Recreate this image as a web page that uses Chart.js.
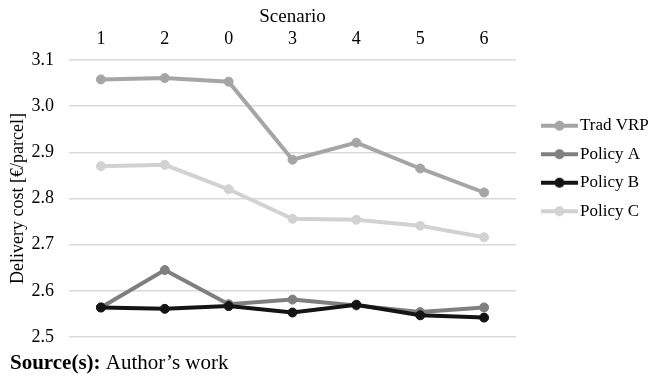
<!DOCTYPE html>
<html>
<head>
<meta charset="utf-8">
<script src="https://cdn.jsdelivr.net/npm/chart.js@4"></script>
<style>
  html, body { margin: 0; padding: 0; background: #fff; }
  #wrap { width: 651px; height: 377px; }
</style>
</head>
<body>
<div id="wrap"><canvas id="costChart"></canvas></div>
<script>
// scenario order as shown on the axis
const scenarios = ["1", "2", "0", "3", "4", "5", "6"];
const tradVrp = [3.058, 3.061, 3.053, 2.884, 2.921, 2.865, 2.813];
const policyA = [2.564, 2.645, 2.571, 2.581, 2.568, 2.554, 2.564];
const policyB = [2.564, 2.561, 2.567, 2.553, 2.570, 2.547, 2.542];
const policyC = [2.870, 2.873, 2.820, 2.756, 2.754, 2.741, 2.716];
const yTicks = [2.5, 2.6, 2.7, 2.8, 2.9, 3.0, 3.1];

const serif = "'Liberation Serif', 'Times New Roman', serif";
const colors = ["#a5a5a5", "#7f7f7f", "#141414", "#d2d2d2"];

// legend symbol: short line with a dot in the middle
function legendIcon(color) {
    const c = document.createElement("canvas");
    c.width = 57;
    c.height = 12;
    const g = c.getContext("2d");
    g.strokeStyle = color;
    g.lineWidth = 4;
    g.beginPath();
    g.moveTo(20, 6);
    g.lineTo(57, 6);
    g.stroke();
    g.fillStyle = color;
    g.beginPath();
    g.arc(38.5, 6, 5, 0, Math.PI * 2);
    g.fill();
    return c;
}
const icons = colors.map(legendIcon);

function series(label, data, i, order) {
    return {
        label: label,
        data: data,
        borderColor: colors[i],
        backgroundColor: colors[i],
        pointBackgroundColor: colors[i],
        pointBorderColor: colors[i],
        borderWidth: 4,
        pointRadius: 4.5,
        pointBorderWidth: 1,
        tension: 0,
        order: order
    };
}

const sourceNote = {
    id: "sourceNote",
    afterDraw(chart) {
        const ctx = chart.ctx;
        ctx.save();
        ctx.fillStyle = "#000";
        ctx.textBaseline = "alphabetic";
        ctx.font = "bold 21px " + serif;
        ctx.fillText("Source(s):", 10, 369);
        const w = ctx.measureText("Source(s): ").width;
        ctx.font = "21px " + serif;
        ctx.fillText("Author\u2019s work", 10 + w, 369);
        ctx.restore();
    }
};

new Chart(document.getElementById("costChart"), {
    type: "line",
    data: {
        labels: scenarios,
        datasets: [
            series("Trad VRP", tradVrp, 0, 0),
            series("Policy A", policyA, 1, 0),
            series("Policy B", policyB, 2, -1),
            series("Policy C", policyC, 3, 0)
        ]
    },
    options: {
        responsive: true,
        maintainAspectRatio: false,
        animation: false,
        layout: { padding: { left: 0, right: 0, top: 0, bottom: 40 } },
        plugins: {
            tooltip: { enabled: false },
            legend: {
                position: "right",
                maxWidth: 135,
                labels: {
                    usePointStyle: true,
                    pointStyleWidth: 44,
                    padding: 11.5,
                    color: "#000",
                    font: { family: serif, size: 17 },
                    sort: (a, b) => a.datasetIndex - b.datasetIndex,
                    generateLabels: chart => Chart.defaults.plugins.legend.labels.generateLabels(chart).map(item => {
                        item.pointStyle = icons[item.datasetIndex];
                        return item;
                    })
                }
            }
        },
        scales: {
            x: {
                position: "top",
                offset: true,
                afterFit: axis => { axis.height = 60; },
                grid: { display: false, drawTicks: false },
                border: { display: false },
                ticks: { color: "#000", font: { family: serif, size: 18 }, padding: 10 },
                title: {
                    display: true,
                    text: "Scenario",
                    color: "#000",
                    font: { family: serif, size: 19 },
                    padding: { top: 6, bottom: 0 }
                }
            },
            y: {
                min: yTicks[0],
                max: yTicks[yTicks.length - 1],
                afterBuildTicks: axis => { axis.ticks = yTicks.map(v => ({ value: v })); },
                afterFit: axis => { axis.width = 69; },
                grid: { color: "#d9d9d9", lineWidth: 1.5, drawTicks: false },
                border: { display: false },
                ticks: {
                    color: "#000",
                    font: { family: serif, size: 18 },
                    padding: 15,
                    callback: v => Number(v).toFixed(1)
                },
                title: {
                    display: true,
                    text: "Delivery cost [\u20ac/parcel]",
                    color: "#000",
                    font: { family: serif, size: 18 },
                    padding: { top: 7, bottom: 0 }
                }
            }
        }
    },
    plugins: [sourceNote]
});
</script>
</body>
</html>
